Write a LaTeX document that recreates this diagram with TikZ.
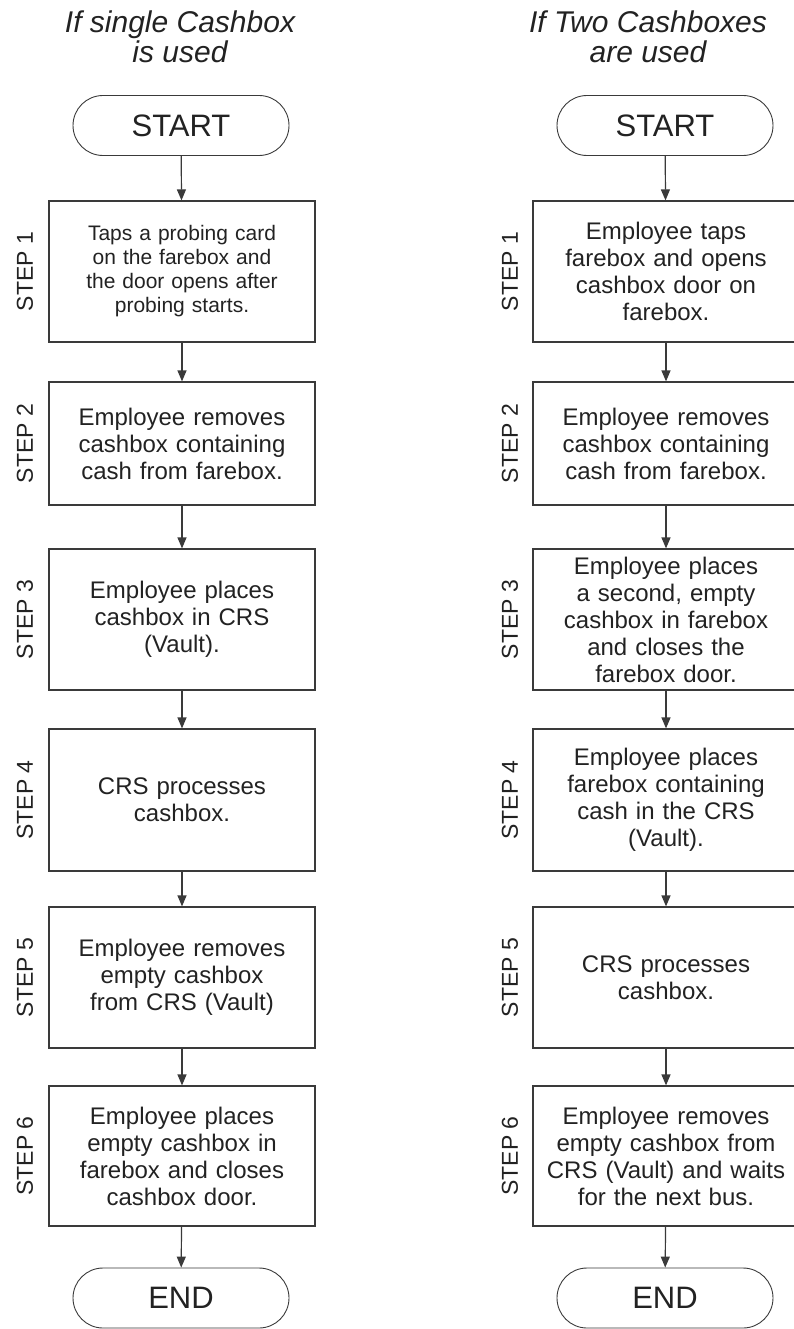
\documentclass[tikz,border=0pt]{standalone}
\usepackage{fontspec}
\setmainfont{Liberation Sans}
\usetikzlibrary{arrows.meta}
\definecolor{linegray}{HTML}{3A3A3A}
\definecolor{textgray}{HTML}{222222}
\tikzset{
  stepbox/.style={draw=linegray, line width=1.2pt, minimum width=266pt, text width=250pt,
    align=center, inner sep=0pt, text=textgray, font=\fontsize{24}{27}\selectfont},
  term/.style={draw=linegray, line width=0.9pt, rounded corners=30pt, minimum width=216pt,
    minimum height=60pt, text=textgray, font=\fontsize{31}{31}\selectfont},
  steplabel/.style={rotate=90, text=textgray, font=\fontsize{23}{23}\selectfont},
  heading/.style={align=center, text=textgray, font=\fontsize{30}{30}\selectfont\itshape},
  flow/.style={draw=linegray, line width=1.2pt, -{Triangle[length=11pt,width=9pt]}}
}
\begin{document}
\begin{tikzpicture}[x=1pt,y=-1pt]
	  \useasboundingbox (0,0) rectangle (793,1329);

	  % single cashbox
	  \node[heading] (lt) at (180,37) {If single Cashbox\\is used};
	  \node[term] (l0) at (181,125.5) {START};
	  \node[stepbox, minimum height=141pt, font=\fontsize{21}{24}\selectfont] (l1) at (182,271.5)
	    {Taps a probing card\\on the farebox and\\the door opens after\\probing starts.};
	  \node[stepbox, minimum height=123pt] (l2) at (182,443.5)
	    {Employee removes\\cashbox containing\\cash from farebox.};
	  \node[stepbox, minimum height=141pt] (l3) at (182,619.5)
	    {Employee places\\cashbox in CRS\\(Vault).};
	  \node[stepbox, minimum height=142pt] (l4) at (182,800)
	    {CRS processes\\cashbox.};
	  \node[stepbox, minimum height=141pt] (l5) at (182,977.5)
	    {Employee removes\\empty cashbox\\from CRS (Vault)};
	  \node[stepbox, minimum height=140pt] (l6) at (182,1156)
	    {Employee places\\empty cashbox in\\farebox and closes\\cashbox door.};
	  \node[term] (l7) at (181,1298) {END};

	  \node[steplabel] (lp1) at (25,271.5) {STEP 1};
	  \node[steplabel] (lp2) at (25,443.5) {STEP 2};
	  \node[steplabel] (lp3) at (25,619.5) {STEP 3};
	  \node[steplabel] (lp4) at (25,800) {STEP 4};
	  \node[steplabel] (lp5) at (25,977.5) {STEP 5};
	  \node[steplabel] (lp6) at (25,1156) {STEP 6};

	  \draw[flow] (l0) -- (l1);
	  \draw[flow] (l1) -- (l2);
	  \draw[flow] (l2) -- (l3);
	  \draw[flow] (l3) -- (l4);
	  \draw[flow] (l4) -- (l5);
	  \draw[flow] (l5) -- (l6);
	  \draw[flow] (l6) -- (l7);

	  % two cashboxes
	  \node[heading] (rt) at (648,37) {If Two Cashboxes\\are used};
	  \node[term] (r0) at (665,125.5) {START};
	  \node[stepbox, minimum height=141pt] (r1) at (666,271.5)
	    {Employee taps\\farebox and opens\\cashbox door on\\farebox.};
	  \node[stepbox, minimum height=123pt] (r2) at (666,443.5)
	    {Employee removes\\cashbox containing\\cash from farebox.};
	  \node[stepbox, minimum height=141pt] (r3) at (666,619.5)
	    {Employee places\\a second, empty\\cashbox in farebox\\and closes the\\farebox door.};
	  \node[stepbox, minimum height=142pt] (r4) at (666,800)
	    {Employee places\\farebox containing\\cash in the CRS\\(Vault).};
	  \node[stepbox, minimum height=141pt] (r5) at (666,977.5)
	    {CRS processes\\cashbox.};
	  \node[stepbox, minimum height=140pt] (r6) at (666,1156)
	    {Employee removes\\empty cashbox from\\CRS (Vault) and waits\\for the next bus.};
	  \node[term] (r7) at (665,1298) {END};

	  \node[steplabel] (rp1) at (510,271.5) {STEP 1};
	  \node[steplabel] (rp2) at (510,443.5) {STEP 2};
	  \node[steplabel] (rp3) at (510,619.5) {STEP 3};
	  \node[steplabel] (rp4) at (510,800) {STEP 4};
	  \node[steplabel] (rp5) at (510,977.5) {STEP 5};
	  \node[steplabel] (rp6) at (510,1156) {STEP 6};

	  \draw[flow] (r0) -- (r1);
	  \draw[flow] (r1) -- (r2);
	  \draw[flow] (r2) -- (r3);
	  \draw[flow] (r3) -- (r4);
	  \draw[flow] (r4) -- (r5);
	  \draw[flow] (r5) -- (r6);
	  \draw[flow] (r6) -- (r7);
	\end{tikzpicture}
\end{document}
